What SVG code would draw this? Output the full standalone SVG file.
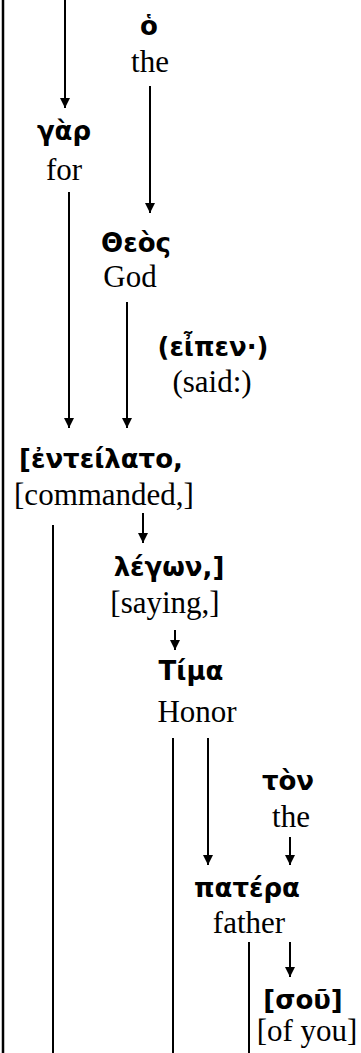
<svg xmlns="http://www.w3.org/2000/svg" width="361" height="1053" viewBox="0 0 361 1053">
<style>
.g{font-family:"DejaVu Sans","Noto Sans",sans-serif;font-weight:bold;font-size:26px;fill:#000;text-anchor:middle}
.e{font-family:"Liberation Serif","Times New Roman",serif;font-size:31px;fill:#000;text-anchor:middle}
.c line{stroke:#000;stroke-width:2}
</style>
<defs>
<marker id="ah" markerUnits="userSpaceOnUse" markerWidth="10" markerHeight="12" refX="10" refY="5" orient="auto" viewBox="0 0 10 10">
<path d="M0,0 L10,5 L0,10 z" fill="#000"/>
</marker>
</defs>
<g class="c" id="connectors">
<line x1="3" y1="0" x2="3" y2="1053" style="stroke-width:2.5"/>
<line x1="65" y1="0" x2="65" y2="108" marker-end="url(#ah)"/>
<line x1="150" y1="86" x2="150" y2="213" marker-end="url(#ah)"/>
<line x1="69" y1="192" x2="69" y2="428" marker-end="url(#ah)"/>
<line x1="127" y1="302" x2="127" y2="428" marker-end="url(#ah)"/>
<line x1="53" y1="525" x2="53" y2="1053"/>
<line x1="143" y1="513" x2="143" y2="543" marker-end="url(#ah)"/>
<line x1="175" y1="630" x2="175" y2="650" marker-end="url(#ah)"/>
<line x1="173" y1="738" x2="173" y2="1053"/>
<line x1="208" y1="738" x2="208" y2="865" marker-end="url(#ah)"/>
<line x1="290" y1="837" x2="290" y2="865" marker-end="url(#ah)"/>
<line x1="249" y1="942" x2="249" y2="1053"/>
<line x1="290" y1="942" x2="290" y2="977" marker-end="url(#ah)"/>
</g>
<g id="n-ho"><text class="g" x="149" y="35">ὁ</text><text class="e" x="150" y="72">the</text></g>
<g id="n-gar"><text class="g" x="64" y="140">γὰρ</text><text class="e" x="64" y="180">for</text></g>
<g id="n-theos"><text class="g" x="136" y="252">Θεὸς</text><text class="e" x="130" y="287">God</text></g>
<g id="n-eipen"><text class="g" x="213" y="356">(εἶπεν·)</text><text class="e" x="212" y="392">(said:)</text></g>
<g id="n-eneteilato"><text class="g" x="101" y="468">[ἐντείλατο,</text><text class="e" x="104" y="505">[commanded,]</text></g>
<g id="n-legon"><text class="g" x="169" y="576">λέγων,]</text><text class="e" x="165" y="613">[saying,]</text></g>
<g id="n-tima"><text class="g" x="191" y="680">Τίμα</text><text class="e" x="197" y="722">Honor</text></g>
<g id="n-ton"><text class="g" x="288" y="790">τὸν</text><text class="e" x="291" y="827">the</text></g>
<g id="n-patera"><text class="g" x="247" y="897">πατέρα</text><text class="e" x="249" y="933">father</text></g>
<g id="n-sou"><text class="g" x="303" y="1009">[σοῦ]</text><text class="e" x="307" y="1041">[of you]</text></g>
</svg>
